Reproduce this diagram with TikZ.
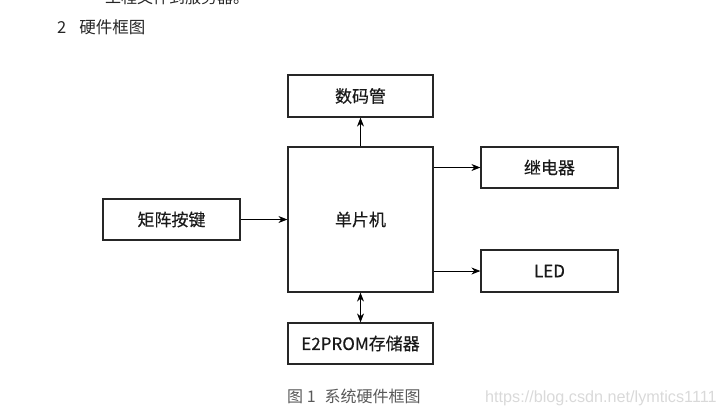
\documentclass[tikz,border=0pt]{standalone}
\usepackage{fontspec}
\setmainfont{Noto Sans CJK SC}
\newfontfamily\boxfont{Noto Sans CJK SC}[FakeBold=0.35]
\newfontfamily\wmfont{Liberation Sans}
\usetikzlibrary{arrows.meta}
\begin{document}
\begin{tikzpicture}[x=1pt,y=-1pt,
  blk/.style={draw=black!85,line width=1.2pt,minimum width=145pt,minimum height=42pt,inner sep=0pt,
    font=\boxfont\fontsize{17}{17}\selectfont,text=black!90},
  conn/.style={line width=0.9pt,draw=black,-{Stealth[length=9pt,width=7pt]}},
  biconn/.style={line width=0.9pt,draw=black,{Stealth[length=9pt,width=7pt]}-{Stealth[length=9pt,width=7pt]}}]
\useasboundingbox (0,0) rectangle (722,416);
\clip (0,0) rectangle (722,416);
\node[anchor=base west,inner sep=0pt,font=\fontsize{16}{16}\selectfont,text=black!85] (toptext) at (105,3) {工程文件到服务器。};
\node[anchor=base west,inner sep=0pt,font=\fontsize{16.5}{16.5}\selectfont,text=black!85] (heading) at (57,33) {2\hspace{13pt}硬件框图};
\node[blk] (seg) at (360.5,96) {数码管};
\node[blk,minimum height=145pt] (mcu) at (360.5,219.5) {单片机};
\node[blk,minimum width=137pt,minimum height=41pt] (relay) at (549.5,167.5) {继电器};
\node[blk,minimum width=137pt] (led) at (549.5,271) {LED};
\node[blk,minimum width=137pt,minimum height=41pt] (keys) at (171.5,219.5) {矩阵按键};
\node[blk,minimum height=41pt] (eep) at (360.5,343.5) {E2PROM存储器};
\draw[conn] (mcu.north) -- (seg.south);
\draw[conn] (mcu.east |- relay.west) -- (relay.west);
\draw[conn] (mcu.east |- led.west) -- (led.west);
\draw[conn] (keys.east) -- (mcu.west |- keys.east);
\draw[biconn] (mcu.south) -- (eep.north);
\node[anchor=base west,inner sep=0pt,font=\fontsize{16}{16}\selectfont,text=black!65] (cap) at (287,402) {图 1\hspace{9pt}系统硬件框图};
\node[anchor=base west,inner sep=0pt,font=\wmfont\fontsize{16.2}{17}\selectfont,text=black!15] (wm) at (485,402) {https://blog.csdn.net/lymtics1111};
\end{tikzpicture}
\end{document}
